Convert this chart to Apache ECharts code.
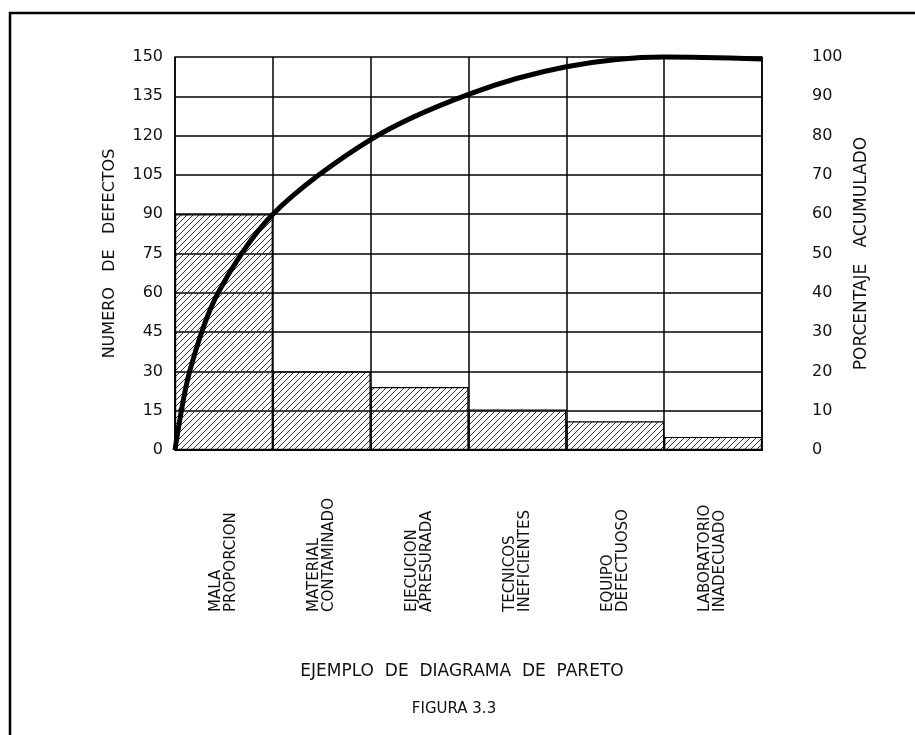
<!DOCTYPE html>
<html>
<head>
<meta charset="utf-8">
<script src="https://cdn.jsdelivr.net/npm/echarts@6/dist/echarts.min.js"></script>
<style>html,body{margin:0;padding:0;background:#fff}#c{width:915px;height:735px}</style>
</head>
<body>
<div id="c"></div>
<script>
// ---- data ----
const categories = ['MALA\nPROPORCION', 'MATERIAL\nCONTAMINADO', 'EJECUCION\nAPRESURADA', 'TECNICOS\nINEFICIENTES', 'EQUIPO\nDEFECTUOSO', 'LABORATORIO\nINADECUADO'];
const defects = [90, 30, 24, 15.5, 11, 5];
const cumPos = [0, 0.15, 0.44, 1, 2, 3, 4, 5, 6];
const cumPct = [0, 20, 40, 60, 79, 90.5, 97.5, 100, 99.5];
const leftTicks = [0, 15, 30, 45, 60, 75, 90, 105, 120, 135, 150];
const rightTicks = [0, 10, 20, 30, 40, 50, 60, 70, 80, 90, 100];
const title = 'EJEMPLO  DE  DIAGRAMA  DE  PARETO';
const subtitle = 'FIGURA 3.3';
const leftName = 'NUMERO   DE   DEFECTOS';
const rightName = 'PORCENTAJE   ACUMULADO';

// hatch pattern
const hc = document.createElement('canvas');
const S = 6;
hc.width = S; hc.height = S;
const hx = hc.getContext('2d');
hx.strokeStyle = '#333';
hx.lineWidth = 1;
hx.beginPath();
hx.moveTo(0, S); hx.lineTo(S, 0);
hx.moveTo(-1, 1); hx.lineTo(1, -1);
hx.moveTo(S - 1, S + 1); hx.lineTo(S + 1, S - 1);
hx.stroke();

const font = 'DejaVu Sans';
const chart = echarts.init(document.getElementById('c'));
chart.setOption({
  backgroundColor: '#fff',
  animation: false,
  grid: { left: 175, right: 153, top: 57, bottom: 285 },
  title: [
    { text: title, left: 457, top: 658, textAlign: 'center',
      textStyle: { fontFamily: font, fontSize: 17, fontWeight: 'normal', color: '#111' } },
    { text: subtitle, left: 449, top: 697, textAlign: 'center',
      textStyle: { fontFamily: font, fontSize: 15, fontWeight: 'normal', color: '#111' } }
  ],
  graphic: [
    { type: 'polyline', shape: { points: [[10, 735], [10, 13], [915, 13]] },
      style: { stroke: '#000', lineWidth: 2.5, fill: null } }
  ],
  xAxis: [
    { type: 'category', data: categories, boundaryGap: true,
      axisLine: { show: true, lineStyle: { color: '#000', width: 2 } },
      axisTick: { show: false },
      splitLine: { show: true, lineStyle: { color: '#000', width: 1.5 } },
      axisLabel: { rotate: 90, align: 'left', margin: 162, interval: 0,
        fontFamily: font, fontSize: 15, color: '#111', lineHeight: 15 } },
    { type: 'value', min: 0, max: 6, show: false }
  ],
  yAxis: [
    { type: 'value', min: 0, max: 150, interval: 15, position: 'left',
      name: leftName, nameLocation: 'middle', nameGap: 57, nameRotate: 90,
      nameTextStyle: { fontFamily: font, fontSize: 16, color: '#111' },
      axisLine: { show: true, lineStyle: { color: '#000', width: 1.5 } },
      axisTick: { show: false },
      splitLine: { show: true, lineStyle: { color: '#000', width: 1.5 } },
      axisLabel: { margin: 12, fontFamily: font, fontSize: 16, color: '#111',
        formatter: v => leftTicks.includes(v) ? String(v) : '' } },
    { type: 'value', min: 0, max: 100, interval: 10, position: 'right',
      name: rightName, nameLocation: 'middle', nameGap: 16, nameRotate: 90,
      nameTextStyle: { fontFamily: font, fontSize: 17, color: '#111', verticalAlign: 'top' },
      axisLine: { show: true, lineStyle: { color: '#000', width: 1.5 } },
      axisTick: { show: false },
      splitLine: { show: false },
      axisLabel: { margin: 50, fontFamily: font, fontSize: 16, color: '#111',
        formatter: v => rightTicks.includes(v) ? String(v) : '' } }
  ],
  series: [
    { type: 'bar', xAxisIndex: 0, yAxisIndex: 0, data: defects,
      barWidth: '100%', barCategoryGap: '0%',
      itemStyle: { color: { image: hc, repeat: 'repeat' }, borderColor: '#000', borderWidth: 1.2 } },
    { type: 'line', xAxisIndex: 1, yAxisIndex: 1, smooth: 0.3, clip: false,
      symbol: 'none', lineStyle: { color: '#000', width: 5 },
      data: cumPos.map((p, i) => [p, cumPct[i]]) }
  ]
});
</script>
</body>
</html>
